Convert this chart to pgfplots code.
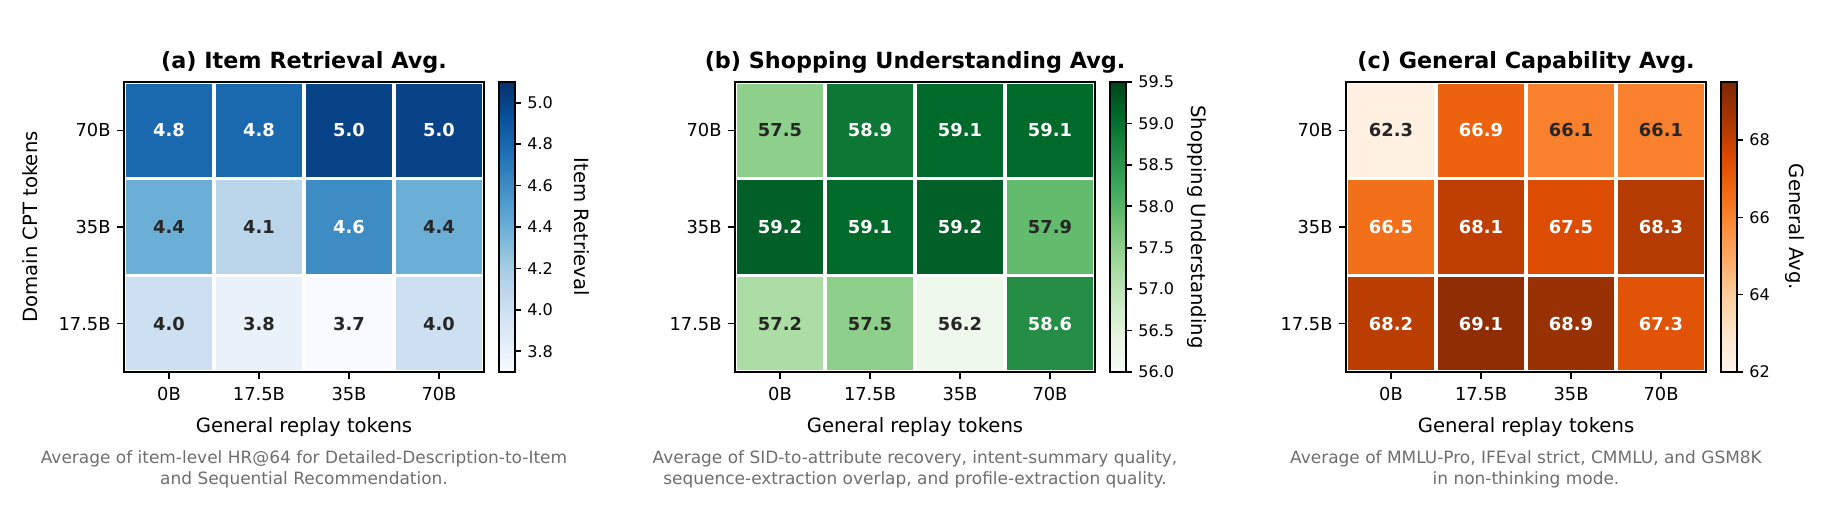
\documentclass[border=0pt]{standalone}
\usepackage{pgfplots}
\pgfplotsset{compat=1.18}
\usepackage{pgfplotstable}
\usepackage{fontspec}
\setmainfont{DejaVu Sans}
\setsansfont{DejaVu Sans}

\definecolor{annodark}{HTML}{262626}
\definecolor{capgray}{HTML}{6E6E6E}

% sequential colour maps (ColorBrewer Blues / Greens / Oranges)
\pgfplotsset{
  colormap={mplblues}{rgb255=(247,251,255) rgb255=(222,235,247) rgb255=(198,219,239)
    rgb255=(158,202,225) rgb255=(107,174,214) rgb255=(66,146,198) rgb255=(33,113,181)
    rgb255=(8,81,156) rgb255=(8,48,107)},
  colormap={mplgreens}{rgb255=(247,252,245) rgb255=(229,245,224) rgb255=(199,233,192)
    rgb255=(161,217,155) rgb255=(116,196,118) rgb255=(65,171,93) rgb255=(35,139,69)
    rgb255=(0,109,44) rgb255=(0,68,27)},
  colormap={mploranges}{rgb255=(255,245,235) rgb255=(254,230,206) rgb255=(253,208,162)
    rgb255=(253,174,107) rgb255=(253,141,60) rgb255=(241,105,19) rgb255=(217,72,1)
    rgb255=(166,54,3) rgb255=(127,39,4)},
}
\pgfkeys{/pgf/number format/assume math mode=true}

% x = general replay tokens (0B,17.5B,35B,70B), y = domain CPT tokens (17.5B,35B,70B)
% w = 1 when the value in the cell is printed in white
\pgfplotstableread{
x y v w
0 0 4.0 0
1 0 3.8 0
2 0 3.7 0
3 0 4.0 0
0 1 4.4 0
1 1 4.1 0
2 1 4.6 1
3 1 4.4 0
0 2 4.8 1
1 2 4.8 1
2 2 5.0 1
3 2 5.0 1
}\itemret

\pgfplotstableread{
x y v w
0 0 57.2 0
1 0 57.5 0
2 0 56.2 0
3 0 58.6 1
0 1 59.2 1
1 1 59.1 1
2 1 59.2 1
3 1 57.9 0
0 2 57.5 0
1 2 58.9 1
2 2 59.1 1
3 2 59.1 1
}\shopping

\pgfplotstableread{
x y v w
0 0 68.2 1
1 0 69.1 1
2 0 68.9 1
3 0 67.3 1
0 1 66.5 1
1 1 68.1 1
2 1 67.5 1
3 1 68.3 1
0 2 62.3 0
1 2 66.9 1
2 2 66.1 0
3 2 66.1 0
}\general

\pgfplotsset{
  heat/.style={
    width=201.6pt, height=162.4pt, scale only axis,
    xmin=-0.5, xmax=3.5, ymin=-0.5, ymax=2.5,
    enlargelimits=false,
    axis on top,
    axis line style={line width=1.2pt, black},
    xtick={0,1,2,3}, xticklabels={0B,17.5B,35B,70B},
    ytick={0,1,2}, yticklabels={17.5B,35B,70B},
    tick align=outside, tick pos=left,
    major tick length=4pt,
    tick style={line width=0.9pt, black},
    tick label style={font=\fontsize{10}{12}\selectfont},
    xticklabel style={yshift=-1pt},
    xlabel={General replay tokens},
    xlabel style={font=\fontsize{11}{13}\selectfont,
      at={([yshift=-34pt]axis description cs:0.5,0)}, anchor=base},
    every axis title shift=0pt,
    title style={font=\bfseries\fontsize{12.5}{15}\selectfont,
      at={([yshift=7.6pt]axis description cs:0.5,1)}, anchor=base},
    colorbar,
    colorbar style={
      width=8.68pt,
      at={([xshift=6.44pt]parent axis.north east)}, anchor=north west,
      axis line style={line width=1.1pt, black},
      ytick pos=right, tick align=outside, major tick length=3.5pt,
      tick style={line width=0.9pt, black},
      yticklabel style={font=\fontsize{9}{11}\selectfont},
      ylabel style={font=\fontsize{11}{13}\selectfont, rotate=180},
    },
  },
  cells/.style={matrix plot*, mesh/cols=4, point meta=explicit,
    draw=white, line width=1.8pt},
  % cell values: #1 selects rows by w, #2 is the text colour
  annot/.style 2 args={only marks, mark=*, mark size=0pt,
    mark options={draw=none, fill=none},
    point meta=explicit,
    x filter/.expression={\thisrow{w}==#1 ? x : nan},
    nodes near coords={\pgfmathprintnumber[fixed,fixed zerofill,precision=1]{\pgfplotspointmeta}},
    every node near coord/.append style={anchor=center, text=#2,
      font=\bfseries\fontsize{10}{12}\selectfont}},
}

\begin{document}
\begin{tikzpicture}
\useasboundingbox (0,0) rectangle (1021.44pt,291.2pt);

% (a) item retrieval
\begin{axis}[heat, at={(69.44pt,82.88pt)}, anchor=south west,
  title={(a) Item Retrieval Avg.},
  ylabel={Domain CPT tokens},
  ylabel style={font=\fontsize{11}{13}\selectfont,
    at={([xshift=-48.6pt]axis description cs:0,0.5)}, anchor=base},
  colormap name=mplblues, point meta min=3.7, point meta max=5.1,
  colorbar style={ylabel={Item Retrieval},
    ytick={3.8,4.0,4.2,4.4,4.6,4.8,5.0},
    yticklabel style={/pgf/number format/fixed, /pgf/number format/fixed zerofill,
      /pgf/number format/precision=1},
    ylabel style={at={([xshift=37.6pt]axis description cs:1,0.5)}, anchor=center}},
]
\addplot[cells] table[meta=v] {\itemret};
\addplot[annot={1}{white}] table[meta=v] {\itemret};
\addplot[annot={0}{annodark}] table[meta=v] {\itemret};
\end{axis}

% (b) shopping understanding
\begin{axis}[heat, at={(411.6pt,82.88pt)}, anchor=south west,
  title={(b) Shopping Understanding Avg.},
  colormap name=mplgreens, point meta min=56.0, point meta max=59.5,
  colorbar style={ylabel={Shopping Understanding},
    ytick={56.0,56.5,57.0,57.5,58.0,58.5,59.0,59.5},
    yticklabel style={/pgf/number format/fixed, /pgf/number format/fixed zerofill,
      /pgf/number format/precision=1},
    ylabel style={at={([xshift=40pt]axis description cs:1,0.5)}, anchor=center}},
]
\addplot[cells] table[meta=v] {\shopping};
\addplot[annot={1}{white}] table[meta=v] {\shopping};
\addplot[annot={0}{annodark}] table[meta=v] {\shopping};
\end{axis}

% (c) general capability
\begin{axis}[heat, at={(753.76pt,82.88pt)}, anchor=south west,
  title={(c) General Capability Avg.},
  colormap name=mploranges, point meta min=62, point meta max=69.5,
  colorbar style={ylabel={General Avg.},
    ytick={62,64,66,68},
    ylabel style={at={([xshift=32.8pt]axis description cs:1,0.5)}, anchor=center}},
]
\addplot[cells] table[meta=v] {\general};
\addplot[annot={1}{white}] table[meta=v] {\general};
\addplot[annot={0}{annodark}] table[meta=v] {\general};
\end{axis}

% notes under each panel
\begin{scope}[every node/.style={align=center, text=capgray,
    font=\fontsize{9.5}{11.8}\selectfont}]
\node at (170.24pt,28.28pt) {Average of item-level HR@64 for Detailed-Description-to-Item\\and Sequential Recommendation.};
\node at (512.4pt,28.28pt) {Average of SID-to-attribute recovery, intent-summary quality,\\sequence-extraction overlap, and profile-extraction quality.};
\node at (854.56pt,28.28pt) {Average of MMLU-Pro, IFEval strict, CMMLU, and GSM8K\\in non-thinking mode.};
\end{scope}
\end{tikzpicture}
\end{document}
